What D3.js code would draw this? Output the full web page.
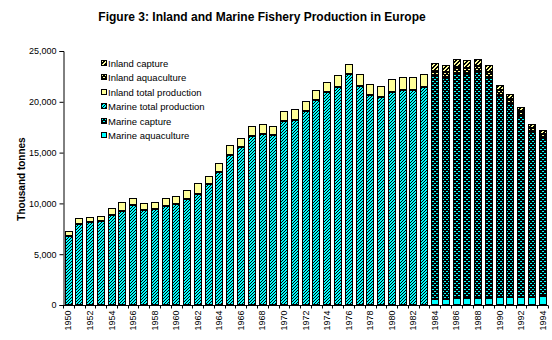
<!DOCTYPE html>
<html>
<head>
<meta charset="utf-8">
<script src="https://cdn.jsdelivr.net/npm/d3@7"></script>
<style>
  body { margin: 0; background: #fff; }
  svg { display: block; font-family: "Liberation Sans", Arial, sans-serif; }
</style>
</head>
<body>
<svg id="chart" width="552" height="340"></svg>
<script>
// categories
const years = [1950, 1951, 1952, 1953, 1954, 1955, 1956, 1957, 1958, 1959,
  1960, 1961, 1962, 1963, 1964, 1965, 1966, 1967, 1968, 1969,
  1970, 1971, 1972, 1973, 1974, 1975, 1976, 1977, 1978, 1979,
  1980, 1981, 1982, 1983, 1984, 1985, 1986, 1987, 1988, 1989,
  1990, 1991, 1992, 1993, 1994];

// 1950-1983 (totals only)
const marineTotal = [6800, 8000, 8130, 8230, 8890, 9250, 9880, 9390, 9490, 9780,
  9980, 10440, 10940, 11950, 13100, 14750, 15540, 16630, 16830, 16700,
  18110, 18210, 19140, 20220, 21010, 21470, 22690, 21570, 20680, 20480,
  21010, 21210, 21180, 21470];
const inlandTotal = [500, 560, 570, 570, 690, 850, 690, 690, 690, 790,
  790, 920, 1050, 700, 830, 990, 930, 1020, 1020, 950,
  1030, 1120, 980, 990, 890, 1150, 990, 1150, 1060, 1030,
  1190, 1190, 1220, 1220];

// 1984-1994 (split by source)
const marineAquaculture = [560, 560, 660, 660, 660, 660, 760, 760, 760, 760, 890];
const marineCapture = [22000, 21850, 22220, 22100, 22300, 21750, 19930, 19040, 17850, 16320, 15550];
const inlandAquaculture = [500, 500, 550, 550, 600, 550, 450, 500, 450, 350, 400];
const inlandCapture = [750, 700, 750, 800, 650, 650, 500, 450, 400, 350, 350];

const yTicks = [0, 5000, 10000, 15000, 20000, 25000];

// build one row per year, zero where a series is not reported
const splitStart = years.indexOf(1984);
const rows = years.map((yr, i) => {
    const early = i < splitStart;
    const j = i - splitStart;
    return {
        year: yr,
        marineAquaculture: early ? 0 : marineAquaculture[j],
        marineCapture: early ? 0 : marineCapture[j],
        marineTotal: early ? marineTotal[i] : 0,
        inlandTotal: early ? inlandTotal[i] : 0,
        inlandAquaculture: early ? 0 : inlandAquaculture[j],
        inlandCapture: early ? 0 : inlandCapture[j],
    };
});

const keys = ['marineAquaculture', 'marineCapture', 'marineTotal', 'inlandTotal', 'inlandAquaculture', 'inlandCapture'];
const labels = {
    inlandCapture: 'Inland capture',
    inlandAquaculture: 'Inland aquaculture',
    inlandTotal: 'Inland total production',
    marineTotal: 'Marine total production',
    marineCapture: 'Marine capture',
    marineAquaculture: 'Marine aquaculture',
};

const svg = d3.select('#chart');
const defs = svg.append('defs');

// hatch / dotted fills, drawn pixel by pixel so they stay crisp
function hatch(id, bg, size, thick) {
    const p = defs.append('pattern').attr('id', id)
        .attr('patternUnits', 'userSpaceOnUse').attr('width', size).attr('height', size);
    p.append('rect').attr('width', size).attr('height', size).attr('fill', bg);
    for (let i = 0; i < size; i++) {
        p.append('rect')
            .attr('x', i).attr('y', size - 1 - i)
            .attr('width', thick).attr('height', 1)
            .attr('fill', '#000');
        if (i + thick > size) {
            p.append('rect').attr('x', 0).attr('y', size - 1 - i)
                .attr('width', i + thick - size).attr('height', 1).attr('fill', '#000');
        }
    }
}
function dashes(id, fg) {
    const p = defs.append('pattern').attr('id', id)
        .attr('patternUnits', 'userSpaceOnUse').attr('width', 4).attr('height', 4);
    p.append('rect').attr('width', 4).attr('height', 4).attr('fill', '#000');
    p.append('rect').attr('x', 0).attr('y', 1).attr('width', 2).attr('height', 1).attr('fill', fg);
    p.append('rect').attr('x', 2).attr('y', 3).attr('width', 2).attr('height', 1).attr('fill', fg);
}
hatch('marineHatch', '#00ffff', 3, 1);
hatch('inlandHatch', '#ffff99', 4, 2);
dashes('marineDash', '#00ffff');
dashes('inlandDash', '#ffff99');

const fills = {
    marineAquaculture: '#00ffff',
    marineCapture: 'url(#marineDash)',
    marineTotal: 'url(#marineHatch)',
    inlandTotal: '#ffff99',
    inlandAquaculture: 'url(#inlandDash)',
    inlandCapture: 'url(#inlandHatch)',
};

const x = d3.scaleBand().domain(years).range([63, 548]).paddingInner(0.28).paddingOuter(0.14);
const y = d3.scaleLinear().domain([0, 25000]).range([305, 51]);

const stacked = d3.stack().keys(keys)(rows);

const layers = svg.append('g').selectAll('g.layer')
    .data(stacked).join('g').attr('class', 'layer')
    .attr('fill', d => fills[d.key]);

layers.selectAll('rect')
    .data(d => d.filter(s => s[1] - s[0] > 0))
    .join('rect')
    .attr('x', d => Math.round(x(d.data.year)) + 0.5)
    .attr('width', Math.round(x.bandwidth()) - 1)
    .attr('y', d => Math.round(y(d[1])) + 0.5)
    .attr('height', d => Math.max(1, Math.round(y(d[0])) - Math.round(y(d[1])) - 1))
    .attr('stroke', '#000')
    .attr('stroke-width', 1)
    .attr('shape-rendering', 'crispEdges');

// y axis
const yAxis = svg.append('g').attr('transform', 'translate(63.5,0)')
    .call(d3.axisLeft(y).tickValues(yTicks).tickSize(4).tickPadding(3).tickFormat(d3.format(',')));
yAxis.select('.domain').attr('stroke', '#000');
yAxis.selectAll('text').style('font-size', '9px').attr('fill', '#000');

// x axis with a tick between every bar, labels on even years
const xAxis = svg.append('g').attr('transform', 'translate(0,305.5)');
xAxis.append('line').attr('x1', 63).attr('x2', 548).attr('stroke', '#000');
xAxis.selectAll('line.tick')
    .data(years.concat(['end'])).join('line').attr('class', 'tick')
    .attr('x1', (d, i) => Math.round(63 + i * x.step()) + 0.5)
    .attr('x2', (d, i) => Math.round(63 + i * x.step()) + 0.5)
    .attr('y1', 0).attr('y2', 3).attr('stroke', '#000');
xAxis.selectAll('text')
    .data(years.filter(d => d % 2 === 0)).join('text')
    .attr('transform', d => `translate(${x(d) + x.bandwidth() / 2 + 3},5) rotate(-90)`)
    .attr('text-anchor', 'end')
    .style('font-size', '9px')
    .text(d => d);

// title and axis label
svg.append('text')
    .attr('x', 262).attr('y', 21)
    .attr('text-anchor', 'middle')
    .style('font-size', '12px').style('font-weight', 'bold')
    .text('Figure 3: Inland and Marine Fishery Production in Europe');

svg.append('text')
    .attr('transform', 'translate(25,179) rotate(-90)')
    .attr('text-anchor', 'middle')
    .style('font-size', '10px').style('font-weight', 'bold')
    .text('Thousand tonnes');

// legend
const legendKeys = keys.slice().reverse();
const legend = svg.append('g').attr('transform', 'translate(101,60)');
const item = legend.selectAll('g').data(legendKeys).join('g')
    .attr('transform', (d, i) => `translate(0,${Math.round(i * 14.45)})`);
item.append('rect')
    .attr('x', 0.5).attr('y', 0.5).attr('width', 5).attr('height', 5)
    .attr('fill', d => fills[d]).attr('stroke', '#000')
    .attr('shape-rendering', 'crispEdges');
item.append('text')
    .attr('x', 7).attr('y', 6.5)
    .style('font-size', '9.5px')
    .text(d => labels[d]);
</script>
</body>
</html>
